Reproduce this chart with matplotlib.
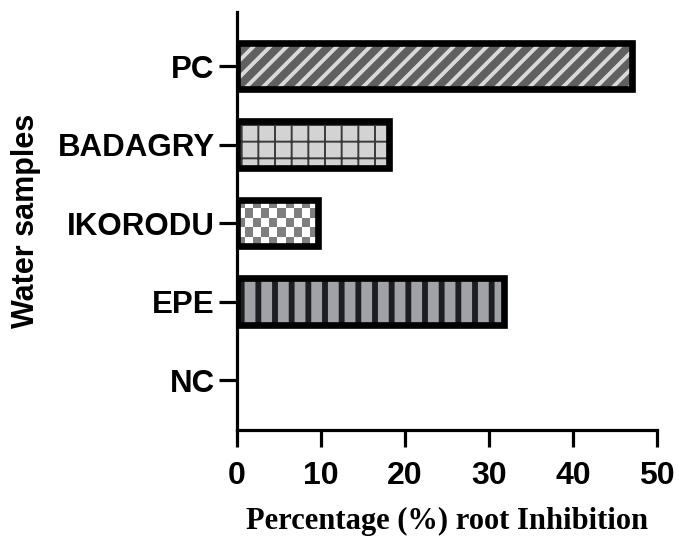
import numpy as np
import matplotlib
matplotlib.use("Agg")
import matplotlib.pyplot as plt

samples = ["NC", "EPE", "IKORODU", "BADAGRY", "PC"]
inhibition = [0.0, 31.8, 9.6, 18.1, 47.0]

face_colors = ["white", "#a1a1a8", "white", "#d3d3d3", "#606060"]
hatch_colors = ["white", "#1e1e22", "white", "#3a3a3a", "#d9d9d9"]
hatches = [None, "|", None, "+", "//"]
hatch_widths = [1.0, 4.2, 1.0, 1.4, 2.8]

fig = plt.figure(figsize=(6.79, 5.39), dpi=100)
ax = fig.add_axes([0.349, 0.2022, 0.6185, 0.7755])

ypos = np.arange(len(samples))
bar_h = 0.59

for i, (v, fc, hc, h, hw) in enumerate(zip(inhibition, face_colors, hatch_colors, hatches, hatch_widths)):
    if v == 0:
        continue
    with plt.rc_context({"hatch.linewidth": hw}):
        b = ax.barh(ypos[i], v, height=bar_h, color=fc, edgecolor=hc, hatch=h, linewidth=0, zorder=2)
    patch = b[0]
    if hasattr(patch, "set_hatch_linewidth"):
        patch.set_hatch_linewidth(hw)
    if samples[i] == "IKORODU":
        # checkerboard fill
        rows, cols = 5, int(round(v))
        board = (np.indices((rows, cols)).sum(axis=0) % 2).astype(float)
        x0, y0 = patch.get_x(), patch.get_y()
        im = ax.imshow(board, cmap=matplotlib.colors.ListedColormap(["#7f7f7f", "white"]),
                       extent=[x0, x0 + patch.get_width(), y0, y0 + patch.get_height()],
                       aspect="auto", interpolation="nearest", zorder=2.5)
        im.set_clip_path(patch)
    ax.barh(ypos[i], v, height=bar_h, fill=False, edgecolor="black", linewidth=4.8, zorder=3)

ax.set_xlim(0, 50)
ax.set_ylim(-0.637, 4.69)
ax.set_xticks([0, 10, 20, 30, 40, 50])
ax.set_yticks(ypos)
ax.set_yticklabels(samples)

for s in ["top", "right"]:
    ax.spines[s].set_visible(False)
for s in ["left", "bottom"]:
    ax.spines[s].set_linewidth(2.3)
ax.spines["left"].set_zorder(4)

ax.tick_params(axis="x", length=12, width=2.3, pad=10)
ax.tick_params(axis="y", length=13, width=2.3, pad=3)
for lab in ax.get_xticklabels():
    lab.set_fontfamily("Liberation Sans")
    lab.set_fontweight("bold")
    lab.set_fontsize(23)
for lab in ax.get_yticklabels():
    lab.set_fontfamily("Liberation Sans")
    lab.set_fontweight("bold")
    lab.set_fontsize(22.5)

fig.text(0.658, 0.033, "Percentage (%) root Inhibition", family="Liberation Serif",
         weight="bold", fontsize=22, ha="center", va="center")
fig.text(0.039, 0.59, "Water samples", family="Liberation Sans", weight="bold",
         fontsize=22, rotation=90, ha="center", va="center")

fig.savefig("out.png", dpi=100)
